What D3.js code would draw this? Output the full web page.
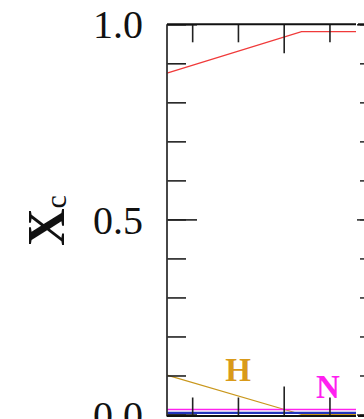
<!DOCTYPE html>
<html>
<head>
<meta charset="utf-8">
<script src="https://cdn.jsdelivr.net/npm/d3@7/dist/d3.min.js"></script>
<style>
  html, body { margin: 0; padding: 0; background: #fff; }
  svg { display: block; }
</style>
</head>
<body>
<svg id="chart" width="364" height="419"></svg>
<script>
// Central abundances versus evolutionary coordinate
const xCoord   = [7.45, 10.39, 11.58];
const redX     = [0.875, 0.981, 0.981];
const hydrogen = [0.101, 0.0, 0.0];
const nitrogen = [0.013, 0.013, 0.013];
const blueX    = [0.004, 0.004, 0.004];

const yMinorTicks = d3.range(0, 1.0001, 0.1).map(v => +v.toFixed(1));
const yMajorTicks = [0.0, 0.5, 1.0];
const yTickLabels = ["0.0", "0.5", "1.0"];
const xMinorTicks = [8, 9, 11];
const xMajorTicks = [10];

const series = [
  { name: "H",     values: hydrogen, color: "#c9971c", width: 1.2 },
  { name: "N",     values: nitrogen, color: "#ff22ee", width: 1.5 },
  { name: "blue",  values: blueX,    color: "#2233bb", width: 2.2 },
  { name: "red",   values: redX,     color: "#f03a3a", width: 1.3 }
];

const svg = d3.select("#chart");
const plotL = 167, plotR = 356, plotT = 24.3, plotB = 414.5;

const x = d3.scaleLinear().domain([xCoord[0], xCoord[xCoord.length - 1]]).range([plotL, plotR]);
const y = d3.scaleLinear().domain([0, 1]).range([plotB, plotT]);

const serif = "'Liberation Serif', 'DejaVu Serif', serif";

// data lines
const line = d3.line().x((d, i) => x(xCoord[i])).y(d => y(d));
series.forEach(s => {
  svg.append("path")
    .datum(s.values)
    .attr("fill", "none")
    .attr("stroke", s.color)
    .attr("stroke-width", s.width)
    .attr("d", line);
});

// left axis: minor and major inward ticks
const yMinor = svg.append("g").attr("transform", `translate(${plotL},0)`)
  .call(d3.axisLeft(y).tickValues(yMinorTicks).tickSize(-19).tickFormat(""));
yMinor.select(".domain").remove();
const yMajor = svg.append("g").attr("transform", `translate(${plotL},0)`)
  .call(d3.axisLeft(y).tickValues(yMajorTicks).tickSize(-30).tickPadding(24)
    .tickFormat((d, i) => yTickLabels[i]));
yMajor.select(".domain").remove();
yMajor.selectAll("text")
  .attr("font-family", serif).attr("font-size", 40).attr("fill", "#111")
  .attr("dy", "0.34em");
svg.selectAll("g.tick line").attr("stroke", "#222").attr("stroke-width", 1.6);

// top and bottom axes with inward ticks
function xAxisPair(pos, gen) {
  const gMin = svg.append("g").attr("transform", `translate(0,${pos})`)
    .call(gen(x).tickValues(xMinorTicks).tickSize(-18).tickFormat(""));
  gMin.select(".domain").remove();
  const gMaj = svg.append("g").attr("transform", `translate(0,${pos})`)
    .call(gen(x).tickValues(xMajorTicks).tickSize(-29).tickFormat(""));
  gMaj.select(".domain").remove();
  [gMin, gMaj].forEach(g => g.selectAll("line").attr("stroke", "#222").attr("stroke-width", 1.6));
}
xAxisPair(plotB + 1, d3.axisBottom);
xAxisPair(plotT, d3.axisTop);

// frame
svg.append("line").attr("x1", plotL).attr("x2", plotL).attr("y1", plotT).attr("y2", plotB + 2)
  .attr("stroke", "#333").attr("stroke-width", 1.8);
svg.append("line").attr("x1", plotL).attr("x2", plotR).attr("y1", plotT).attr("y2", plotT)
  .attr("stroke", "#111").attr("stroke-width", 2);
svg.append("line").attr("x1", plotL).attr("x2", plotR).attr("y1", plotB + 1.5).attr("y2", plotB + 1.5)
  .attr("stroke", "#111").attr("stroke-width", 2);

// neighbouring frame edge at the right
const rx = 366;
const rMinor = svg.append("g").attr("transform", `translate(${rx},0)`)
  .call(d3.axisLeft(y).tickValues(yMinorTicks).tickSize(6).tickFormat(""));
rMinor.select(".domain").remove();
const rMajor = svg.append("g").attr("transform", `translate(${rx},0)`)
  .call(d3.axisLeft(y).tickValues(yMajorTicks).tickSize(9).tickFormat(""));
rMajor.select(".domain").remove();
[rMinor, rMajor].forEach(g => g.selectAll("line").attr("stroke", "#333").attr("stroke-width", 1.6));
svg.append("line").attr("x1", 358).attr("x2", 370).attr("y1", plotT).attr("y2", plotT)
  .attr("stroke", "#111").attr("stroke-width", 2);
svg.append("line").attr("x1", 358).attr("x2", 370).attr("y1", plotB + 1.5).attr("y2", plotB + 1.5)
  .attr("stroke", "#111").attr("stroke-width", 2);

// series labels
svg.append("text").attr("x", 238).attr("y", 381).attr("text-anchor", "middle")
  .attr("font-family", serif).attr("font-weight", "bold").attr("font-size", 33)
  .attr("fill", "#d99a1a").text("H");
svg.append("text").attr("x", 328).attr("y", 398).attr("text-anchor", "middle")
  .attr("font-family", serif).attr("font-weight", "bold").attr("font-size", 33)
  .attr("fill", "#ff1ff0").text("N");

// y-axis title
const title = svg.append("text")
  .attr("transform", "translate(64,246) rotate(-90)")
  .attr("font-family", serif).attr("font-weight", "bold").attr("font-size", 52)
  .attr("fill", "#111");
title.append("tspan").text("X");
title.append("tspan").attr("font-size", 30).attr("font-weight", "normal").attr("dy", 2).text("c");
</script>
</body>
</html>
